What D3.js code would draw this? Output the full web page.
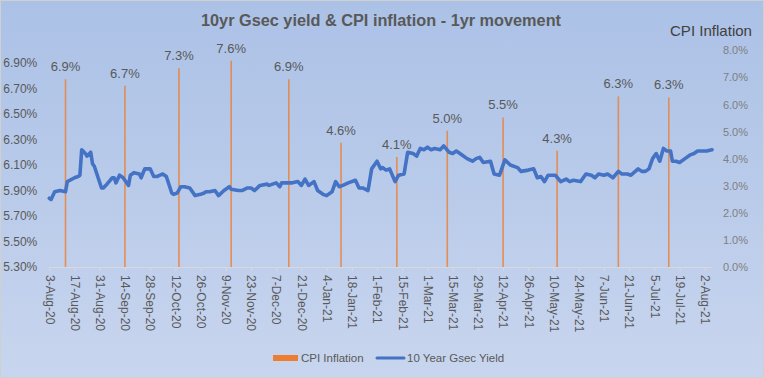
<!DOCTYPE html>
<html><head><meta charset="utf-8">
<script src="https://cdn.jsdelivr.net/npm/d3@7"></script>
<style>
html,body{margin:0;padding:0;background:#fff;}
svg{display:block;font-family:"Liberation Sans",Arial,sans-serif;}
</style></head>
<body>
<svg id="chart" width="764" height="378"></svg>
<script>
// ---- data ----
const yieldDates = ["2020-08-03","2020-08-04","2020-08-06","2020-08-09","2020-08-12","2020-08-13","2020-08-17","2020-08-19","2020-08-20","2020-08-21","2020-08-23","2020-08-24","2020-08-26","2020-08-27","2020-08-28",
"2020-09-01","2020-09-02","2020-09-04","2020-09-07","2020-09-08","2020-09-09","2020-09-11","2020-09-13","2020-09-16","2020-09-17","2020-09-19","2020-09-22","2020-09-23","2020-09-25","2020-09-28","2020-09-30",
"2020-10-02","2020-10-05","2020-10-07","2020-10-10","2020-10-11","2020-10-13","2020-10-15","2020-10-17","2020-10-20","2020-10-23","2020-10-26","2020-10-28","2020-10-29","2020-10-31",
"2020-11-03","2020-11-05","2020-11-08","2020-11-11","2020-11-12","2020-11-16","2020-11-18","2020-11-21","2020-11-23","2020-11-25","2020-11-28",
"2020-12-02","2020-12-03","2020-12-07","2020-12-09","2020-12-10","2020-12-16","2020-12-19","2020-12-21","2020-12-23","2020-12-25","2020-12-28","2020-12-30",
"2021-01-02","2021-01-04","2021-01-07","2021-01-09","2021-01-11","2021-01-13","2021-01-16","2021-01-20","2021-01-22","2021-01-24","2021-01-27","2021-01-29",
"2021-02-01","2021-02-03","2021-02-04","2021-02-06","2021-02-08","2021-02-11","2021-02-13","2021-02-16","2021-02-18","2021-02-21","2021-02-23","2021-02-25","2021-02-27",
"2021-03-01","2021-03-03","2021-03-05","2021-03-08","2021-03-10","2021-03-13","2021-03-15","2021-03-17","2021-03-20","2021-03-23","2021-03-26","2021-03-28","2021-03-30",
"2021-04-01","2021-04-05","2021-04-07","2021-04-10","2021-04-13","2021-04-16","2021-04-20","2021-04-22","2021-04-26","2021-04-29",
"2021-05-01","2021-05-03","2021-05-05","2021-05-07","2021-05-11","2021-05-14","2021-05-17","2021-05-19","2021-05-21","2021-05-25","2021-05-28","2021-05-31",
"2021-06-02","2021-06-04","2021-06-07","2021-06-09","2021-06-12","2021-06-15","2021-06-17","2021-06-20","2021-06-22","2021-06-26","2021-06-28","2021-06-30",
"2021-07-02","2021-07-04","2021-07-06","2021-07-08","2021-07-10","2021-07-12","2021-07-14","2021-07-15","2021-07-17","2021-07-19","2021-07-22","2021-07-25","2021-07-27","2021-07-29",
"2021-08-03","2021-08-06"];
const yieldValues = [5.84,5.83,5.89,5.90,5.89,5.97,6.00,6.01,6.02,6.22,6.19,6.17,6.20,6.11,6.09,
5.92,5.92,5.95,6.00,6.00,5.96,6.02,6.00,5.94,6.02,6.04,6.03,6.00,6.07,6.07,6.01,
6.01,6.03,6.01,5.88,5.87,5.88,5.93,5.93,5.92,5.86,5.87,5.88,5.89,5.89,
5.90,5.86,5.90,5.93,5.91,5.90,5.90,5.92,5.92,5.90,5.94,
5.95,5.94,5.96,5.93,5.96,5.96,5.97,5.94,5.99,5.94,5.97,5.90,
5.87,5.86,5.89,5.97,5.93,5.94,5.96,5.98,5.92,5.92,5.90,6.07,
6.13,6.07,6.08,6.06,6.07,5.97,6.02,6.03,6.20,6.19,6.17,6.23,6.22,
6.24,6.22,6.23,6.22,6.25,6.20,6.19,6.21,6.18,6.15,6.13,6.15,6.16,
6.12,6.13,6.03,6.02,6.14,6.10,6.08,6.05,6.06,6.07,
6.00,6.01,5.97,6.02,6.02,5.97,5.99,5.97,5.98,5.97,6.03,6.02,
6.00,6.03,6.02,6.03,6.00,6.05,6.03,6.03,6.02,6.07,6.05,6.05,
6.07,6.15,6.19,6.13,6.23,6.21,6.21,6.13,6.13,6.12,6.15,6.18,6.19,6.21,
6.21,6.22];

const cpiDates  = ["2020-08-12","2020-09-14","2020-10-14","2020-11-12","2020-12-14","2021-01-12","2021-02-12","2021-03-12","2021-04-12","2021-05-12","2021-06-15","2021-07-13"];
const cpiValues = [6.93,6.69,7.34,7.61,6.93,4.59,4.06,5.03,5.52,4.29,6.30,6.26];

const xTickLabels = ["3-Aug-20","17-Aug-20","31-Aug-20","14-Sep-20","28-Sep-20","12-Oct-20","26-Oct-20","9-Nov-20","23-Nov-20","7-Dec-20","21-Dec-20","4-Jan-21","18-Jan-21","1-Feb-21","15-Feb-21","1-Mar-21","15-Mar-21","29-Mar-21","12-Apr-21","26-Apr-21","10-May-21","24-May-21","7-Jun-21","21-Jun-21","5-Jul-21","19-Jul-21","2-Aug-21"];
const leftTicks  = [5.3,5.5,5.7,5.9,6.1,6.3,6.5,6.7,6.9];
const rightTicks = [0,1,2,3,4,5,6,7,8];
const xDomain = ["2020-08-03","2021-08-06"];

// ---- chart ----
const W = 764, H = 378;
const svg = d3.select("#chart");
const parseISO = d3.timeParse("%Y-%m-%d");
const parseTick = d3.timeParse("%d-%b-%y");

const defs = svg.append("defs");
const grad = defs.append("linearGradient").attr("id","bg").attr("x1",0).attr("y1",0).attr("x2",0).attr("y2",1);
grad.append("stop").attr("offset","0%").attr("stop-color","#abc1e6");
grad.append("stop").attr("offset","100%").attr("stop-color","#c8d5ee");
svg.append("rect").attr("x",0.5).attr("y",0.5).attr("width",W-1).attr("height",H-1)
  .attr("fill","url(#bg)").attr("stroke","#d0d0d0");

const plot = {left:49.3, right:712, top:50.3, bottom:267};
const x = d3.scaleTime().domain(xDomain.map(parseISO)).range([plot.left, plot.right]);
const yL = d3.scaleLinear().domain([5.3, 7.0]).range([plot.bottom, plot.top]);
const yR = d3.scaleLinear().domain([0, 8]).range([plot.bottom, plot.top]);

// title
svg.append("text").attr("x",381).attr("y",26).attr("text-anchor","middle")
  .attr("font-size",16).attr("font-weight","bold").attr("fill","#595959")
  .attr("textLength",360).attr("lengthAdjust","spacingAndGlyphs")
  .text("10yr Gsec yield & CPI inflation - 1yr movement");
svg.append("text").attr("x",752).attr("y",36).attr("text-anchor","end")
  .attr("font-size",15).attr("fill","#404040")
  .attr("textLength",82).attr("lengthAdjust","spacingAndGlyphs")
  .text("CPI Inflation");

// left axis labels
const axL = svg.append("g").attr("transform",`translate(${plot.left-12},0)`)
  .call(d3.axisLeft(yL).tickValues(leftTicks).tickFormat(d=>d3.format(".2f")(d)+"%").tickSize(0).tickPadding(0));
axL.select(".domain").remove();
axL.selectAll("text").attr("font-size",12).attr("fill","#595959").attr("font-family","Liberation Sans, Arial, sans-serif");

// right axis labels
const axR = svg.append("g").attr("transform",`translate(748,0)`)
  .call(d3.axisLeft(yR).tickValues(rightTicks).tickFormat(d=>d3.format(".1f")(d)+"%").tickSize(0).tickPadding(0));
axR.select(".domain").remove();
axR.selectAll("text").attr("font-size",11).attr("fill","#7f7f7f").attr("font-family","Liberation Sans, Arial, sans-serif");

// x axis
const xTicks = xTickLabels.map(parseTick);
const fmt = d3.timeFormat("%-d-%b-%y");
const axX = svg.append("g").attr("transform",`translate(0,${plot.bottom})`)
  .call(d3.axisBottom(x).tickValues(xTicks).tickFormat(fmt).tickSize(4).tickSizeOuter(0));
axX.select(".domain").attr("stroke","#d9d9d9").attr("stroke-width",1.2);
axX.selectAll(".tick line").attr("stroke","#d9d9d9");
axX.selectAll("text").attr("font-size",12).attr("fill","#595959").attr("font-family","Liberation Sans, Arial, sans-serif")
  .attr("text-anchor","start").attr("transform","rotate(90)").attr("x",8).attr("y",0).attr("dy","0.35em");

// CPI bars
const cpi = cpiDates.map((d,i)=>({date:parseISO(d), v:cpiValues[i]}));
svg.append("g").selectAll("line").data(cpi).join("line")
  .attr("x1",d=>x(d.date)).attr("x2",d=>x(d.date))
  .attr("y1",yR(0)).attr("y2",d=>yR(d.v))
  .attr("stroke","#ED7D31").attr("stroke-opacity",0.8).attr("stroke-width",1.6);
svg.append("g").selectAll("text").data(cpi).join("text")
  .attr("x",d=>x(d.date)).attr("y",d=>yR(d.v)-8)
  .attr("text-anchor","middle").attr("font-size",13).attr("fill","#595959")
  .text(d=>d3.format(".1f")(d.v)+"%");

// yield line
const yd = yieldDates.map((d,i)=>({date:parseISO(d), v:yieldValues[i]}));
svg.append("path").datum(yd)
  .attr("fill","none").attr("stroke","#4472C4").attr("stroke-width",3.6)
  .attr("stroke-linejoin","round").attr("stroke-linecap","round")
  .attr("d", d3.line().x(d=>x(d.date)).y(d=>yL(d.v)));

// legend
const lg = svg.append("g").attr("font-size",11.5).attr("fill","#595959");
lg.append("rect").attr("x",273).attr("y",355).attr("width",25).attr("height",6).attr("fill","#ED7D31");
lg.append("text").attr("x",301).attr("y",362).attr("fill","#595959").text("CPI Inflation");
lg.append("line").attr("x1",377).attr("x2",404).attr("y1",358).attr("y2",358)
  .attr("stroke","#4472C4").attr("stroke-width",3).attr("stroke-linecap","round");
lg.append("text").attr("x",407).attr("y",362).attr("fill","#595959").text("10 Year Gsec Yield");
</script>
</body></html>
